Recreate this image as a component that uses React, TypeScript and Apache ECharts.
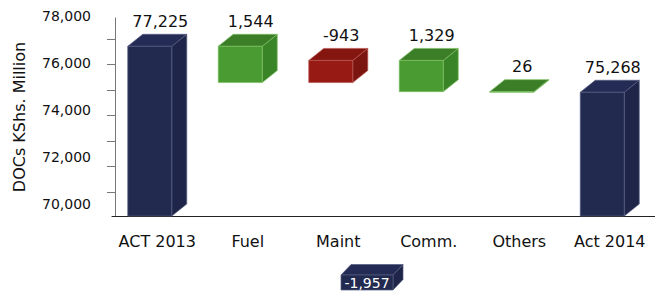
import React, { useEffect, useRef } from 'react';
import * as echarts from 'echarts';

// ---- data ----
const categories = ['ACT 2013', 'Fuel', 'Maint', 'Comm.', 'Others', 'Act 2014'];
const startTotal = 77225;
const endTotal = 75268;
// positive = cost reduction (green, bar goes down), negative = increase (red, bar goes up)
const deltas = [1544, -943, 1329, 26];
const yLabelValues = [70000, 72000, 74000, 76000, 78000];

const FONT = 'DejaVu Sans';

const palette: Record<string, { front: string; top: string; side: string; edge: string }> = {
  total: { front: '#222a50', top: '#242c55', side: '#1e2548', edge: '#555b80' },
  down: { front: '#4a9b31', top: '#3b7e27', side: '#398427', edge: '#7cbf63' },
  up: { front: '#981a14', top: '#85160f', side: '#7b1510', edge: '#b8554f' },
};

function fmt(v: number) {
  return v.toLocaleString('en-US');
}

export default function App() {
  const ref = useRef<HTMLDivElement>(null);

  useEffect(() => {
    document.body.style.margin = '0';
    const chart = echarts.init(ref.current as HTMLDivElement, null, { renderer: 'svg' });

    const items: { value: number[]; kind: string; label: number }[] = [];
    items.push({ value: [0, 70000, startTotal], kind: 'total', label: startTotal });
    let run = startTotal;
    deltas.forEach((d, i) => {
      const next = run - d;
      items.push({
        value: [i + 1, Math.min(run, next), Math.max(run, next)],
        kind: d >= 0 ? 'down' : 'up',
        label: d,
      });
      run = next;
    });
    items.push({ value: [categories.length - 1, 70000, endTotal], kind: 'total', label: endTotal });

    const netChange = endTotal - startTotal;

    const dx = 15;
    const dy = -12;

    const tickValues = Array.from({ length: 7 }, (_, i) => 71021 + i * 1085);

    chart.setOption({
      animation: false,
      grid: { left: 112, right: 0, top: 18, bottom: 82, containLabel: false },
      xAxis: {
        type: 'category',
        data: categories,
        axisLine: { show: true, lineStyle: { color: '#222', width: 1 } },
        axisTick: { show: false },
        axisLabel: {
          interval: 0,
          margin: 17,
          fontFamily: FONT,
          fontSize: 16,
          color: '#111',
        },
        splitLine: { show: false },
      },
      yAxis: {
        type: 'value',
        min: 70000,
        max: 78430,
        offset: -3,
        axisLine: { show: true, lineStyle: { color: '#777', width: 1 } },
        axisTick: {
          show: true,
          length: 8,
          lineStyle: { color: '#777' },
          customValues: tickValues,
        },
        axisLabel: {
          customValues: yLabelValues,
          formatter: (v: number) => fmt(v),
          fontFamily: FONT,
          fontSize: 14,
          color: '#111',
          margin: 24,
          verticalAlign: 'bottom',
          lineHeight: 25,
        },
        splitLine: { show: false },
        name: 'DOCs KShs. Million',
        nameLocation: 'middle',
        nameGap: 88,
        nameTextStyle: { fontFamily: FONT, fontSize: 16, color: '#111' },
      },
      series: [
        {
          type: 'custom',
          clip: false,
          data: items.map((it) => it.value),
          renderItem: (params: any, api: any) => {
            const it = items[params.dataIndex];
            const col = palette[it.kind];
            const idx = api.value(0);
            const pLo = api.coord([idx, api.value(1)]);
            const pHi = api.coord([idx, api.value(2)]);
            const cx = pLo[0];
            const x0 = cx - 29.5;
            const x1 = cx + 14.5;
            const yT = pHi[1];
            const yB = pLo[1];
            return {
              type: 'group',
              children: [
                {
                  type: 'polygon',
                  shape: { points: [[x1, yT], [x1 + dx, yT + dy], [x1 + dx, yB + dy], [x1, yB]] },
                  style: { fill: col.side, stroke: col.edge, lineWidth: 0.7 },
                },
                {
                  type: 'polygon',
                  shape: { points: [[x0, yT], [x1, yT], [x1 + dx, yT + dy], [x0 + dx, yT + dy]] },
                  style: { fill: col.top, stroke: col.edge, lineWidth: 0.7 },
                },
                {
                  type: 'rect',
                  shape: { x: x0, y: yT, width: x1 - x0, height: Math.max(yB - yT, 0.5) },
                  style: { fill: col.front, stroke: col.edge, lineWidth: 0.7 },
                },
                {
                  type: 'text',
                  x: cx + 3,
                  y: yT + dy - 13,
                  style: {
                    text: fmt(it.label),
                    fontFamily: FONT,
                    fontSize: 16,
                    fill: '#111',
                    align: 'center',
                    verticalAlign: 'middle',
                  },
                },
              ],
            };
          },
        },
      ],
      graphic: [
        {
          type: 'group',
          children: [
            {
              type: 'polygon',
              shape: { points: [[393, 275], [403, 264.5], [403, 279.5], [393, 290]] },
              style: { fill: palette.total.side, stroke: palette.total.edge, lineWidth: 0.7 },
            },
            {
              type: 'polygon',
              shape: { points: [[341, 275], [393, 275], [403, 264.5], [351, 264.5]] },
              style: { fill: palette.total.top, stroke: palette.total.edge, lineWidth: 0.7 },
            },
            {
              type: 'rect',
              shape: { x: 341, y: 275, width: 52, height: 15 },
              style: { fill: palette.total.front, stroke: palette.total.edge, lineWidth: 0.7 },
            },
            {
              type: 'text',
              x: 367,
              y: 283,
              style: {
                text: fmt(netChange),
                fontFamily: FONT,
                fontSize: 14,
                fill: '#ffffff',
                align: 'center',
                verticalAlign: 'middle',
              },
            },
          ],
        },
      ],
    });

    return () => {
      chart.dispose();
    };
  }, []);

  return <div ref={ref} style={{ width: 655, height: 298 }} />;
}
